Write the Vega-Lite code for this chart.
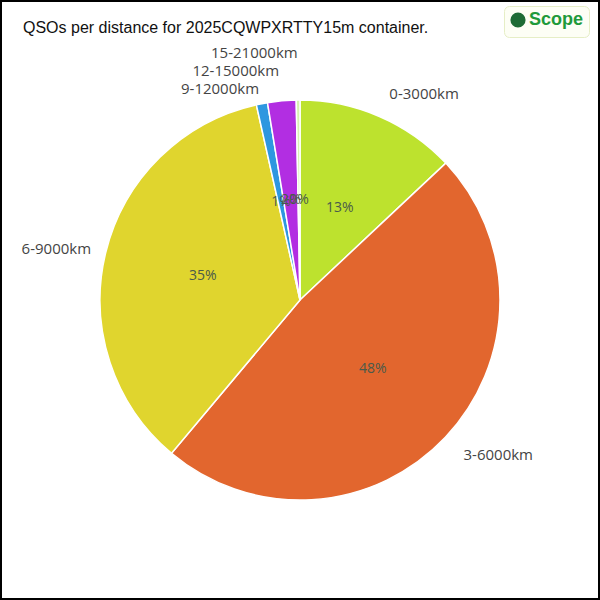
{
  "$schema": "https://vega.github.io/schema/vega-lite/v6.json",
  "width": 600,
  "height": 600,
  "autosize": {"type": "fit", "contains": "padding"},
  "padding": 0,
  "background": "white",
  "config": {"view": {"stroke": null}},
  "title": {
    "text": "QSOs per distance for 2025CQWPXRTTY15m container.",
    "anchor": "start",
    "frame": "group",
    "orient": "top",
    "offset": -49,
    "dx": 22,
    "baseline": "alphabetic",
    "font": "Liberation Sans",
    "fontSize": 16,
    "fontWeight": "normal",
    "color": "#111"
  },
  "data": {
    "values": [
      {"distance": "0-3000km", "share": 0.130, "ord": 1},
      {"distance": "3-6000km", "share": 0.481, "ord": 2},
      {"distance": "6-9000km", "share": 0.354, "ord": 3},
      {"distance": "9-12000km", "share": 0.009, "ord": 4},
      {"distance": "12-15000km", "share": 0.023, "ord": 5},
      {"distance": "15-21000km", "share": 0.003, "ord": 6}
    ]
  },
  "encoding": {
    "theta": {"field": "share", "type": "quantitative", "stack": true},
    "order": {"field": "ord", "type": "quantitative"}
  },
  "layer": [
    {
      "mark": {"type": "rect", "filled": false, "stroke": "black", "strokeWidth": 2},
      "encoding": {"theta": null, "order": null}
    },
    {
      "mark": {"type": "arc", "outerRadius": 200, "stroke": "white", "strokeWidth": 1.5},
      "encoding": {
        "color": {
          "field": "distance",
          "type": "nominal",
          "scale": {
            "domain": ["0-3000km", "3-6000km", "6-9000km", "9-12000km", "12-15000km", "15-21000km"],
            "range": ["#bde22e", "#e2662e", "#e0d52e", "#2e97e0", "#b22ee2", "#d6f2b0"]
          },
          "legend": null
        }
      }
    },
    {
      "mark": {"type": "text", "radius": 100, "font": "Open Sans", "fontSize": 14, "color": "#4a5a4a"},
      "encoding": {"text": {"field": "share", "type": "quantitative", "format": ".0%"}}
    },
    {
      "mark": {"type": "text", "radius": 225, "align": "left", "font": "Open Sans", "fontSize": 15, "color": "#444"},
      "encoding": {"text": {"condition": {"test": "datum.ord <= 2", "field": "distance"}, "value": ""}}
    },
    {
      "mark": {"type": "text", "radius": 215, "align": "right", "font": "Open Sans", "fontSize": 15, "color": "#444"},
      "encoding": {"text": {"condition": {"test": "datum.ord == 3 || datum.ord == 4", "field": "distance"}, "value": ""}}
    },
    {
      "mark": {"type": "text", "radius": 230, "align": "right", "font": "Open Sans", "fontSize": 15, "color": "#444"},
      "encoding": {"text": {"condition": {"test": "datum.ord == 5", "field": "distance"}, "value": ""}}
    },
    {
      "mark": {"type": "text", "radius": 247, "align": "right", "font": "Open Sans", "fontSize": 15, "color": "#444"},
      "encoding": {"text": {"condition": {"test": "datum.ord == 6", "field": "distance"}, "value": ""}}
    },
    {
      "data": {"values": [{"site": "Scope"}]},
      "mark": {"type": "point", "filled": true, "size": 0, "opacity": 1, "color": "#1e6b35"},
      "encoding": {
        "theta": null,
        "order": null,
        "shape": {
          "field": "site",
          "type": "nominal",
          "scale": {"range": ["circle"]},
          "legend": {
            "title": null,
            "orient": "none",
            "legendX": 503,
            "legendY": 5,
            "symbolType": "circle",
            "symbolFillColor": "#1e6b35",
            "symbolOpacity": 1,
            "symbolStrokeColor": "#111",
            "symbolStrokeWidth": 2,
            "symbolSize": 230,
            "symbolOffset": 0,
            "labelFontSize": 18,
            "labelFont": "Liberation Sans",
            "labelColor": "#1f9a3a",
            "labelFontWeight": "bold",
            "labelOffset": 2,
            "fillColor": "#fdfef5",
            "strokeColor": "#e6eec6",
            "cornerRadius": 5,
            "padding": 5
          }
        }
      }
    }
  ]
}
